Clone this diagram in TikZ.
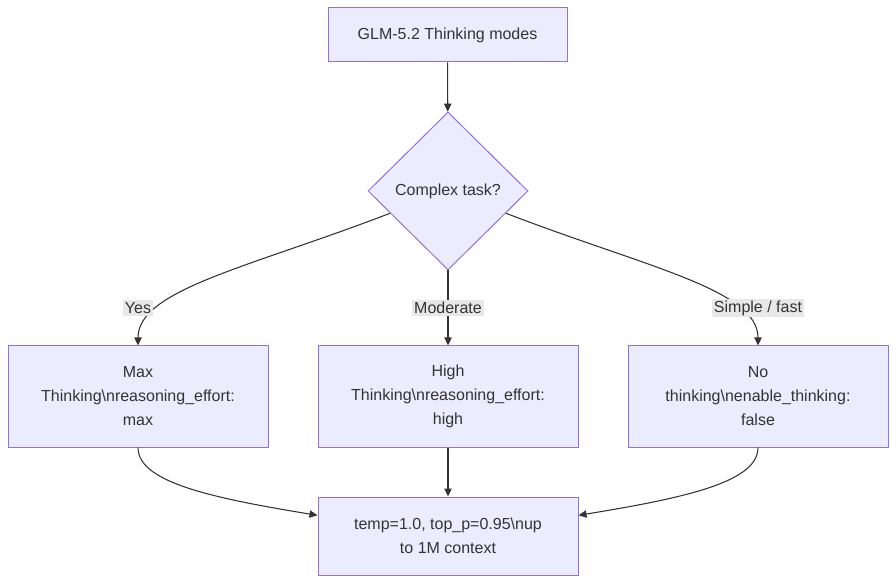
\documentclass[tikz,border=0pt]{standalone}
\usepackage{fontspec}
\setmainfont{Liberation Sans}
\usepackage{xcolor}
\usepackage{tikz}
\usetikzlibrary{arrows.meta, positioning, shapes.geometric, calc}
\definecolor{boxfill}{HTML}{ECECFF}
\definecolor{boxline}{HTML}{9370DB}
\definecolor{ink}{HTML}{333333}
\definecolor{lblfill}{HTML}{E8E8E8}
\tikzset{
  modebox/.style={draw=boxline, fill=boxfill, line width=0.75pt, text=ink, align=center, inner sep=0pt, font=\fontsize{12}{18}\selectfont},
  choice/.style={diamond, draw=boxline, fill=boxfill, line width=0.75pt, text=ink, inner sep=0pt, minimum width=120pt, minimum height=118.5pt, font=\fontsize{12}{18}\selectfont},
  edgelbl/.style={fill=lblfill, text=ink, inner sep=1.5pt, font=\fontsize{12}{14}\selectfont},
  flow/.style={draw=ink, line width=0.8pt, -{Triangle[length=6pt, width=5.5pt]}}
}
\begin{document}
\begin{tikzpicture}[x=0.75pt, y=-0.75pt]
				\useasboundingbox (0,0) rectangle (896,584);
				% Nodes:
				\node[modebox, minimum width=179.25pt, minimum height=40.5pt](top) at (447.5, 35){GLM-5.2 Thinking modes};
				\node[choice](task) at (448, 191){Complex task?};
				\node[modebox, minimum width=195pt, minimum height=75.75pt](maxm) at (138, 396.5){Max\\Thinking\textbackslash nreasoning\_effort:\\max};
				\node[modebox, minimum width=195pt, minimum height=75.75pt](highm) at (448, 396.5){High\\Thinking\textbackslash nreasoning\_effort:\\high};
				\node[modebox, minimum width=195pt, minimum height=75.75pt](nom) at (758, 396.5){No\\thinking\textbackslash nenable\_thinking:\\false};
				\node[modebox, minimum width=195pt, minimum height=58.5pt](cfg) at (448, 536){temp=1.0, top\_p=0.95\textbackslash nup\\to 1M context};
				% Paths:
				\coordinate (tl) at ($(task.west)!0.28!(task.south)$);
				\coordinate (tr) at ($(task.east)!0.28!(task.south)$);
				\draw[flow] (top) -- (task);
				\draw[flow] (tl) .. controls +(-140,54) and +(0,-56) .. (maxm.north);
				\draw[flow] (task.south) -- (highm.north);
				\draw[flow] (tr) .. controls +(140,54) and +(0,-56) .. (nom.north);
				\draw[flow] (maxm.south) .. controls +(0,34) and +(-110,-18) .. (cfg.171);
				\draw[flow] (highm.south) -- (cfg.north);
				\draw[flow] (nom.south) .. controls +(0,34) and +(110,-18) .. (cfg.9);
				% Labels:
				\node[edgelbl](yes) at (138, 308){Yes};
				\node[edgelbl](mod) at (448, 308){Moderate};
				\node[edgelbl](fast) at (758, 308){Simple / fast};
			\end{tikzpicture}
\end{document}
